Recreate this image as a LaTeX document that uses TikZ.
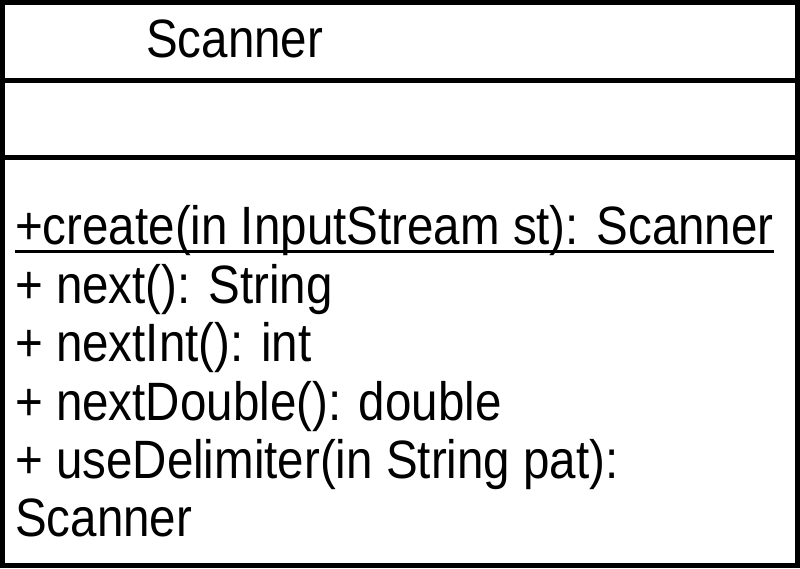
\documentclass[tikz,border=0pt]{standalone}
\usepackage{fontspec}
\setmainfont{Liberation Sans}[FakeStretch=0.88]
\usetikzlibrary{positioning}

\begin{document}
\begin{tikzpicture}[x=1pt, y=-1pt,
    every node/.style={inner sep=0pt, anchor=base west, text=black,
      font=\fontsize{54}{60}\selectfont},
    frame/.style={line width=5pt, draw=black},
    uline/.style={line width=3pt, draw=black},
    ]
  \useasboundingbox (0,0) rectangle (800,568);
  % class box with its three compartments
  \draw[frame] (2.5,2.5) rectangle (797.5,565.5);
  \draw[frame] (0,80.5) -- (800,80.5);
  \draw[frame] (0,157.5) -- (800,157.5);

  \node (classname) at (146,57) {Scanner};

  \node (create) at (15,244) {+create(in InputStream st): Scanner};
  \draw[uline] ([yshift=-7pt]create.base west) -- ([yshift=-7pt]create.base east);
  \node (next) at (15,303) {+ next(): String};
  \node (nextint) at (15,361) {+ nextInt(): int};
  \node (nextdouble) at (15,420) {+ nextDouble(): double};
  \node (usedelim) at (15,478) {+ useDelimiter(in String pat):};
  \node (usedelimret) at (15,536) {Scanner};

\end{tikzpicture}
\end{document}
